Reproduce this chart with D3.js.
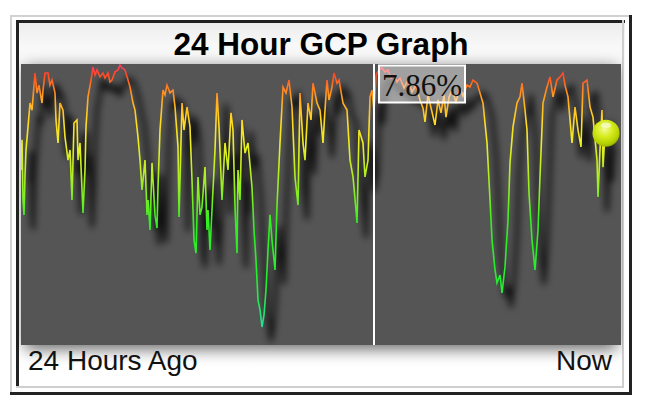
<!DOCTYPE html>
<html><head><meta charset="utf-8">
<script src="https://cdn.jsdelivr.net/npm/d3@7"></script>
<style>html,body{margin:0;padding:0;background:#fff;} svg{display:block}</style>
</head><body>
<svg id="c" width="648" height="414"></svg>
<script>
const title = "24 Hour GCP Graph";
const leftLabel = "24 Hours Ago";
const rightLabel = "Now";
const cursorLabel = "7.86%";
const cursorSample = 353;
const sampleDomain = [0, 600];
const valueDomain = [0, 100];

const samples = [
  0,1,2,3,4,5,7,9,11,14,
  16,18,21,22,24,27,29,31,34,35,
  37,39,42,44,47,49,51,53,56,57,
  59,61,62,64,65,67,70,72,74,76,
  79,82,84,87,89,91,94,97,99,101,
  104,107,109,112,114,117,119,121,124,126,
  127,129,131,134,136,137,139,142,144,146,
  149,152,154,157,158,159,161,163,166,169,
  171,173,175,177,179,181,184,186,187,189,
  192,194,196,198,201,204,207,210,212,214,
  216,217,219,221,224,227,231,233,235,237,
  239,241,243,245,247,249,251,254,256,259,
  262,265,268,271,274,277,279,282,284,287,
  290,292,296,299,302,304,306,308,311,313,
  316,318,322,326,329,332,335,336,338,342,
  344,347,349,351,353,355,358,361,364,367,
  370,373,376,379,383,387,391,395,399,402,
  404,407,411,414,417,420,423,425,428,431,
  435,439,442,446,449,452,456,459,462,466,
  469,471,474,476,479,481,484,487,489,492,
  496,499,501,504,506,508,511,514,517,519,
  522,526,529,532,536,539,542,544,547,551,
  554,557,560,562,566,569,572,576,577,579,
  581,582,584
];
const values = [
  62.3,73.0,51.6,46.3,60.5,69.4,77.6,86.1,83.6,96.8,
  89.7,92.5,86.1,90.7,96.8,96.8,92.5,94.3,89.7,80.1,
  71.9,86.1,83.6,74.0,65.8,69.4,51.6,79.0,80.1,65.8,
  71.9,55.2,47.0,62.3,77.6,88.3,94.3,98.9,96.1,97.9,
  95.4,96.8,95.0,96.8,93.6,94.3,97.2,97.9,99.6,98.6,
  97.9,94.3,91.8,86.1,83.6,74.0,65.8,55.2,65.8,46.3,
  51.6,40.9,64.8,46.3,41.6,56.2,76.5,90.7,89.0,92.5,
  89.7,90.7,84.7,70.5,45.6,58.7,86.1,76.5,84.7,77.6,
  58.7,37.4,32.7,59.8,46.3,49.1,63.3,40.9,48.0,33.8,
  55.2,69.4,89.7,77.6,51.6,71.9,62.3,82.6,76.5,49.1,
  32.7,62.3,51.6,80.1,68.3,71.9,56.2,40.9,30.2,16.0,
  12.5,6.4,10.7,19.6,33.8,46.3,37.4,26.7,49.8,71.9,
  91.8,89.7,94.3,84.7,59.8,49.8,89.7,71.9,65.8,86.1,
  80.1,93.2,86.1,83.6,71.9,83.6,94.3,87.2,91.8,96.8,
  93.2,94.3,86.1,83.6,65.8,59.8,48.0,43.4,76.5,71.9,
  59.8,65.8,88.3,90.7,83.6,96.1,97.9,98.6,97.2,97.9,
  95.0,96.1,93.6,95.0,91.5,94.3,90.0,92.5,87.2,84.3,
  79.4,89.0,82.9,78.3,87.2,82.6,89.0,81.1,88.3,90.7,
  86.5,91.5,88.6,92.5,91.8,94.3,93.2,89.7,86.1,71.9,
  51.6,37.4,26.7,22.1,24.9,18.5,27.8,44.5,64.8,77.6,
  86.1,88.3,93.2,83.6,76.5,54.1,37.4,26.7,40.9,59.8,
  86.1,91.8,95.4,88.3,94.3,95.4,96.8,92.5,88.3,71.9,
  84.7,76.5,70.5,93.2,94.3,84.7,81.1,65.8,52.7,69.4,
  83.6,63.3,75.4
];
const colorLevels = [100, 96, 92, 87, 80, 72, 62, 52, 44, 20, 4];
const colorValues = ["#ff3a70","#ff4a22","#ff7a22","#ffaa22","#ffd824","#eeee22","#bbee22","#77ee22","#33ee22","#22ee33","#22ddaa"];

const data = samples.map((s, i) => ({s, v: values[i]}));

const svg = d3.select('#c');
const defs = svg.append('defs');
const plot = {x0: 21, x1: 621, y0: 64, y1: 345};
const x = d3.scaleLinear().domain(sampleDomain).range([plot.x0, plot.x1]);
const y = d3.scaleLinear().domain(valueDomain).range([plot.y1, plot.y0]);

const bgGrad = defs.append('linearGradient').attr('id','bgGrad').attr('x1',0).attr('x2',0).attr('y1',0).attr('y2',1);
bgGrad.append('stop').attr('offset','0').attr('stop-color','#ececec');
bgGrad.append('stop').attr('offset','0.07').attr('stop-color','#f8f8f8');
bgGrad.append('stop').attr('offset','1').attr('stop-color','#ffffff');

const lineGrad = defs.append('linearGradient').attr('id','lineGrad')
  .attr('gradientUnits','userSpaceOnUse')
  .attr('x1',0).attr('x2',0).attr('y1',y(valueDomain[1])).attr('y2',y(valueDomain[0]));
colorLevels.forEach((lv, i) => {
  lineGrad.append('stop').attr('offset', (valueDomain[1]-lv)/(valueDomain[1]-valueDomain[0])).attr('stop-color', colorValues[i]);
});

const blurShadow = defs.append('filter').attr('id','lineShadow').attr('x','-20%').attr('y','-20%').attr('width','140%').attr('height','140%');
blurShadow.append('feGaussianBlur').attr('stdDeviation',3.5);
const boxBlur = defs.append('filter').attr('id','boxBlur').attr('x','-10%').attr('y','-10%').attr('width','120%').attr('height','130%');
boxBlur.append('feGaussianBlur').attr('stdDeviation',8);

const sphereGrad = defs.append('radialGradient').attr('id','sphere').attr('cx','0.45').attr('cy','0.35').attr('r','0.65');
sphereGrad.append('stop').attr('offset','0').attr('stop-color','#f2fb9a');
sphereGrad.append('stop').attr('offset','0.45').attr('stop-color','#d6ec1e');
sphereGrad.append('stop').attr('offset','0.85').attr('stop-color','#b4d000');
sphereGrad.append('stop').attr('offset','1').attr('stop-color','#98b000');

defs.append('clipPath').attr('id','plotClip').append('rect')
  .attr('x',plot.x0).attr('y',plot.y0).attr('width',plot.x1-plot.x0).attr('height',plot.y1-plot.y0);
defs.append('clipPath').attr('id','innerClip').append('rect')
  .attr('x',19).attr('y',23).attr('width',604).attr('height',363);

// outer frame
svg.append('rect').attr('x',10).attr('y',15).attr('width',621).attr('height',2).attr('fill','#d2d2d2');
svg.append('rect').attr('x',10).attr('y',15).attr('width',2).attr('height',379).attr('fill','#d2d2d2');
svg.append('rect').attr('x',629).attr('y',15).attr('width',3).attr('height',380).attr('fill','#222');
svg.append('rect').attr('x',10).attr('y',392).attr('width',622).attr('height',3).attr('fill','#222');

// inner box
svg.append('rect').attr('x',16).attr('y',20).attr('width',609).attr('height',368).attr('fill','url(#bgGrad)');
svg.append('rect').attr('x',16).attr('y',20).attr('width',609).attr('height',3).attr('fill','#222');
svg.append('rect').attr('x',16).attr('y',20).attr('width',3).attr('height',368).attr('fill','#222');
svg.append('rect').attr('x',622).attr('y',20).attr('width',2).attr('height',368).attr('fill','#cfcfcf');
svg.append('rect').attr('x',16).attr('y',386).attr('width',608).attr('height',2).attr('fill','#cfcfcf');

// plot shadow
svg.append('g').attr('clip-path','url(#innerClip)')
  .append('rect').attr('x',plot.x0+4).attr('y',plot.y0+4).attr('width',plot.x1-plot.x0-8).attr('height',plot.y1-plot.y0)
  .attr('fill','#000').attr('opacity',0.6).attr('filter','url(#boxBlur)');

// plot background
svg.append('rect').attr('x',plot.x0).attr('y',plot.y0).attr('width',plot.x1-plot.x0).attr('height',plot.y1-plot.y0).attr('fill','#555555');

// title
svg.append('text').attr('x',321).attr('y',55).attr('text-anchor','middle')
  .attr('font-family','"Liberation Sans", Arial, sans-serif').attr('font-weight','bold').attr('font-size',31.5)
  .attr('fill','#000').text(title);

const line = d3.line().x(d => x(d.s)).y(d => y(d.v));
const pg = svg.append('g').attr('clip-path','url(#plotClip)');
pg.append('path').datum(data).attr('d',line).attr('transform','translate(9,13)')
  .attr('fill','none').attr('stroke','#000').attr('stroke-width',4).attr('stroke-opacity',0.8)
  .attr('stroke-linejoin','round').attr('filter','url(#lineShadow)');
pg.append('path').datum(data).attr('d',line)
  .attr('fill','none').attr('stroke','url(#lineGrad)').attr('stroke-width',1.6).attr('stroke-linejoin','miter');

// cursor line
const cx = x(cursorSample);
svg.append('line').attr('x1',cx).attr('x2',cx).attr('y1',plot.y0).attr('y2',plot.y1)
  .attr('stroke','#fff').attr('stroke-width',2);

// label box
svg.append('rect').attr('x',cx+5).attr('y',plot.y0+1.5).attr('width',86).attr('height',37)
  .attr('fill','#ffffff').attr('fill-opacity',0.45).attr('stroke','#fff').attr('stroke-width',2);
svg.append('text').attr('x',cx+8).attr('y',96)
  .attr('font-family','"Liberation Serif", "Times New Roman", serif').attr('font-size',31)
  .attr('fill','#111').text(cursorLabel);

// end sphere
const last = data[data.length-1];
const sx = x(last.s) + 1, sy = y(last.v);
svg.append('circle').attr('cx',sx).attr('cy',sy).attr('r',13.5).attr('fill','url(#sphere)');
svg.append('ellipse').attr('cx',sx).attr('cy',sy-8).attr('rx',5).attr('ry',2.6).attr('fill','#fff').attr('opacity',0.55);

// bottom labels
svg.append('text').attr('x',28).attr('y',370)
  .attr('font-family','"Liberation Sans", Arial, sans-serif').attr('font-size',28).attr('fill','#111').text(leftLabel);
svg.append('text').attr('x',612).attr('y',370).attr('text-anchor','end')
  .attr('font-family','"Liberation Sans", Arial, sans-serif').attr('font-size',28).attr('fill','#111').text(rightLabel);
</script>
</body></html>
